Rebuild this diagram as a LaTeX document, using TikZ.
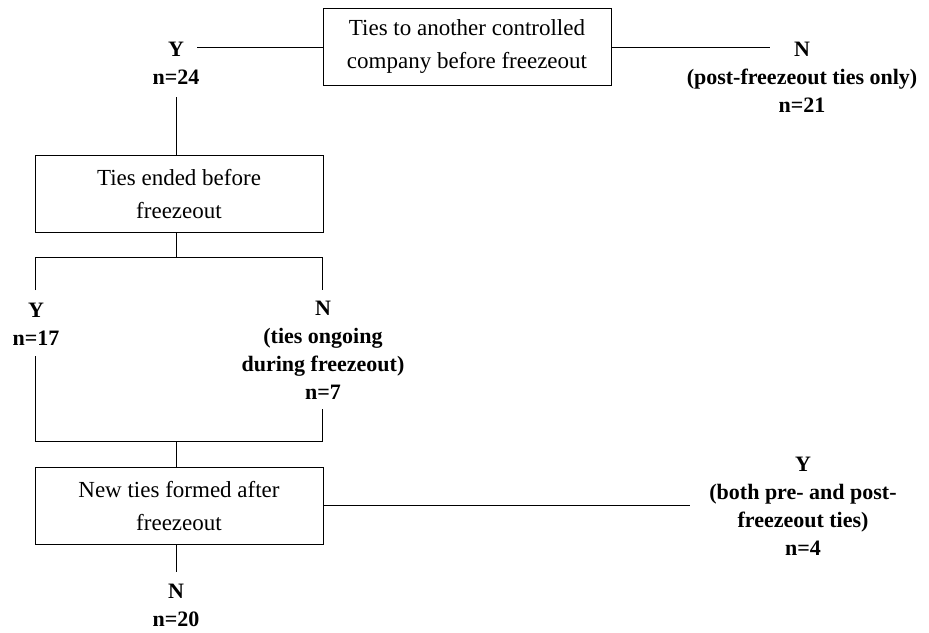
\documentclass[tikz,border=0pt]{standalone}
\usepackage{fontspec}
\setmainfont{Liberation Serif}
\usepackage{tikz}

\tikzset{
  qbox/.style={draw, line width=0.5pt, minimum width=144pt, minimum height=38.5pt,
    align=center, inner sep=0pt, font=\fontsize{11.5}{16.5}\selectfont},
  ans/.style={align=center, inner sep=0pt, font=\fontsize{11}{14}\selectfont\bfseries}
}

\begin{document}
\begin{tikzpicture}[x=0.5pt,y=-0.5pt,line width=0.5pt]
	\useasboundingbox (0,0) rectangle (929,632);
	% question boxes
	\node[qbox] (q1) at (467,46.5) {Ties to another controlled\\company before freezeout};
	\node[qbox] (q2) at (179,194) {Ties ended before\\freezeout};
	\node[qbox] (q3) at (179,506) {New ties formed after\\freezeout};
	% answers
	\node[ans] (y24) at (176,63) {Y\\n=24};
	\node[ans] (n21) at (802,77) {N\\(post-freezeout ties only)\\n=21};
	\node[ans] (y17) at (36,324) {Y\\n=17};
	\node[ans] (n7) at (323,350) {N\\(ties ongoing\\during freezeout)\\n=7};
	\node[ans] (y4) at (803,506) {Y\\(both pre- and post-\\freezeout ties)\\n=4};
	\node[ans] (n20) at (176,605) {N\\n=20};
	% loose ends
	\coordinate (y24r) at (197,47);
	\coordinate (n21l) at (770,47);
	\coordinate (y24b) at (176,97);
	\coordinate (split) at (176,257);
	\coordinate (y17t) at (35,290);
	\coordinate (n7t) at (322,290);
	\coordinate (y17b) at (35,356);
	\coordinate (n7b) at (322,409);
	\coordinate (join) at (176,441);
	\coordinate (y4l) at (690,505);
	\coordinate (n20t) at (176,572);
	% connectors
	\draw (y24r) -- (y24r -| q1.west);
	\draw (n21l -| q1.east) -- (n21l);
	\draw (y24b) -- (y24b |- q2.north);
	\draw (split |- q2.south) -- (split);
	\draw (y17t) -- (y17t |- split) -- (n7t |- split) -- (n7t);
	\draw (y17b) -- (y17b |- join) -- (n7b |- join) -- (n7b);
	\draw (join) -- (join |- q3.north);
	\draw (y4l -| q3.east) -- (y4l);
	\draw (n20t |- q3.south) -- (n20t);
\end{tikzpicture}
\end{document}
